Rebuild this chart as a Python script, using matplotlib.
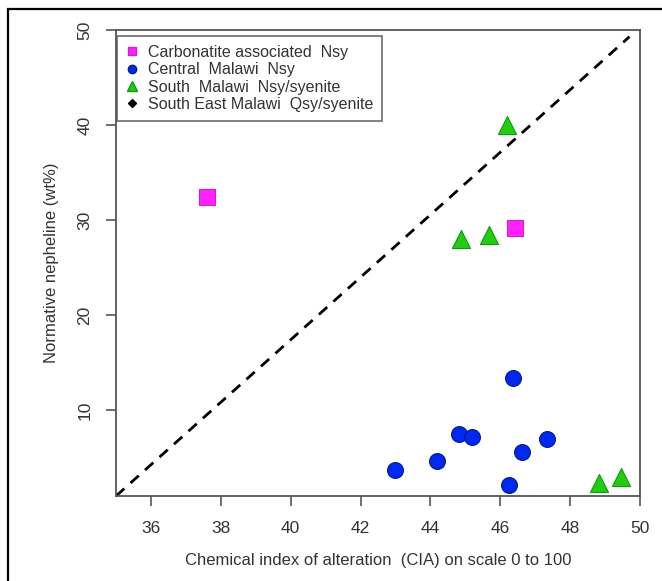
import matplotlib
matplotlib.use('Agg')
import matplotlib.pyplot as plt
from matplotlib.lines import Line2D
from matplotlib.patches import Rectangle

plt.rcParams['font.family'] = ['Liberation Sans', 'DejaVu Sans']

# data
carb_x = [37.6, 46.42]
carb_y = [32.4, 29.2]
central_x = [46.37, 44.83, 45.20, 47.33, 46.63, 44.20, 43.00, 46.26]
central_y = [13.4, 7.5, 7.2, 7.0, 5.6, 4.7, 3.7, 2.2]
south_x = [46.19, 44.87, 45.68, 48.84, 49.46]
south_y = [40.0, 28.0, 28.4, 2.4, 3.0]
se_x = []
se_y = []

legend_labels = ['Carbonatite associated  Nsy', 'Central  Malawi  Nsy',
                 'South  Malawi  Nsy/syenite', 'South East Malawi  Qsy/syenite']
x_ticks = [36, 38, 40, 42, 44, 46, 48, 50]
y_ticks = [10, 20, 30, 40, 50]
xlim = (35, 50)
ylim = (1, 50)

txt = '#333333'
spine = '#555555'

fig = plt.figure(figsize=(6.62, 5.81), dpi=100)
ax = fig.add_axes([116 / 662, 1 - 496 / 581, 524 / 662, 466 / 581])

ax.plot([xlim[0], xlim[1] - 0.3], [ylim[0], ylim[1] - 0.7], color='black',
        linestyle=(0, (4, 3)), linewidth=2, zorder=1)

ax.scatter(carb_x, carb_y, marker='s', s=120, color='#ff22ff',
           edgecolors='#cc22cc', linewidths=0.8, zorder=3)
ax.scatter(central_x, central_y, marker='o', s=130, color='#0028ee',
           edgecolors='#001a99', linewidths=0.8, zorder=3)
ax.scatter(south_x, south_y, marker='^', s=170, color='#22cc11',
           edgecolors='#119911', linewidths=0.8, zorder=3)
ax.scatter(se_x, se_y, marker='D', s=40, color='black', zorder=3)

ax.set_xlim(*xlim)
ax.set_ylim(*ylim)
ax.set_xticks(x_ticks)
ax.set_yticks(y_ticks)
ax.tick_params(direction='out', length=7, width=1.2, color=spine,
               labelcolor=txt, labelsize=12.5, pad=10)
ax.tick_params(axis='x', pad=11)
for lab in ax.get_yticklabels():
    lab.set_rotation(90)
    lab.set_va('center')
for s in ax.spines.values():
    s.set_color(spine)
    s.set_linewidth(1.3)

ax.set_xlabel('Chemical index of alteration  (CIA) on scale 0 to 100',
              fontsize=12, color=txt, labelpad=12)
ax.set_ylabel('Normative nepheline (wt%)', fontsize=12, color=txt,
              labelpad=13)

handles = [
    Line2D([], [], linestyle='none', marker='s', markersize=6,
           color='#ff22ff', markeredgecolor='#cc22cc'),
    Line2D([], [], linestyle='none', marker='o', markersize=6,
           color='#0028ee', markeredgecolor='#001a99'),
    Line2D([], [], linestyle='none', marker='^', markersize=7,
           color='#22cc11', markeredgecolor='#119911'),
    Line2D([], [], linestyle='none', marker='D', markersize=4,
           color='black'),
]
leg = ax.legend(handles, legend_labels, loc='upper left',
                bbox_to_anchor=(0.002, 0.987), borderaxespad=0,
                fontsize=11.5, frameon=True, fancybox=False,
                handlelength=0.8, handletextpad=0.6, labelspacing=0.15,
                borderpad=0.55)
leg.get_frame().set_edgecolor(spine)
leg.get_frame().set_linewidth(1.3)
for t in leg.get_texts():
    t.set_color(txt)

fig.patches.append(Rectangle((8 / 662, -0.05), 1.1, 1 - 9 / 581 + 0.05,
                             transform=fig.transFigure, fill=False,
                             edgecolor='black', linewidth=1.6))

fig.savefig('out.png', dpi=100)
